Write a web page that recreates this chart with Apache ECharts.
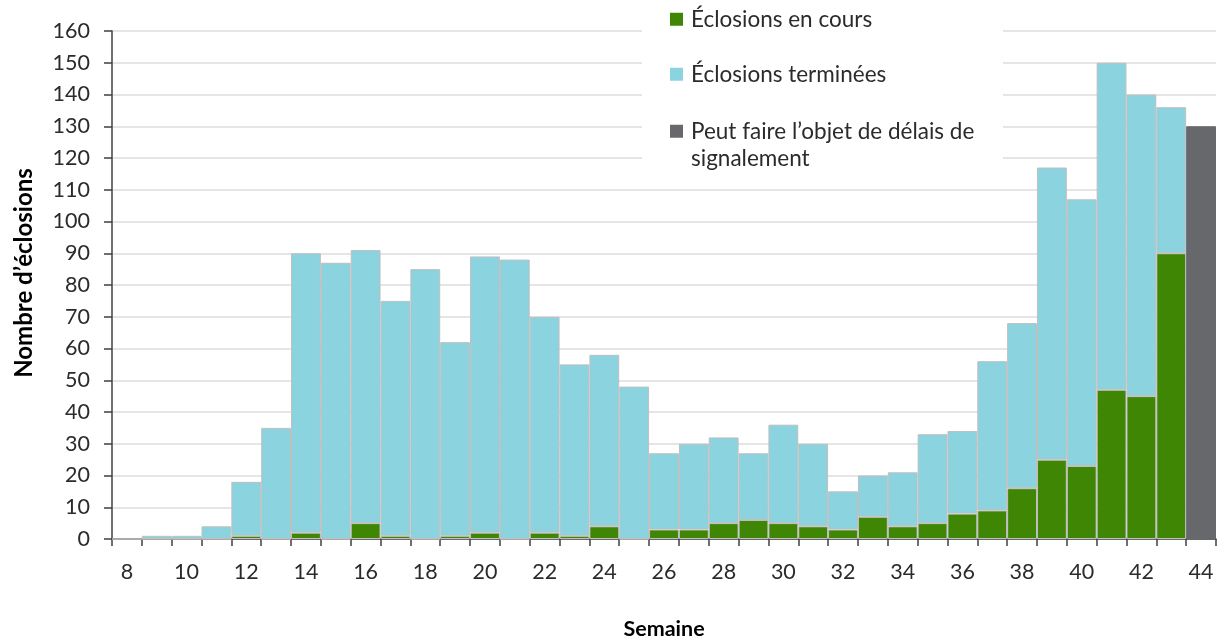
<!DOCTYPE html>
<html>
<head>
<meta charset="utf-8">
<script src="https://cdn.jsdelivr.net/npm/echarts@6/dist/echarts.min.js"></script>
<style>
  html, body { margin: 0; padding: 0; background: #fff; }
  #chart { width: 1219px; height: 643px; }
</style>
</head>
<body>
<div id="chart"></div>
<script>
// Weeks (categories)
const weeks = [8,9,10,11,12,13,14,15,16,17,18,19,20,21,22,23,24,25,26,27,28,29,30,31,32,33,34,35,36,37,38,39,40,41,42,43,44];
// Éclosions en cours (green, bottom of stack)
const enCours = [0,0,0,0,1,0,2,0,5,1,0,1,2,0,2,1,4,0,3,3,5,6,5,4,3,7,4,5,8,9,16,25,23,47,45,90,'-'];
// Éclosions terminées (light blue, stacked on top)
const terminees = ['-',1,1,4,17,35,88,87,86,74,85,61,87,88,68,54,54,48,24,27,27,21,31,26,12,13,17,28,26,47,52,92,84,103,95,46,'-'];
// Peut faire l'objet de délais de signalement (grey)
const delais = ['-','-','-','-','-','-','-','-','-','-','-','-','-','-','-','-','-','-','-','-','-','-','-','-','-','-','-','-','-','-','-','-','-','-','-','-',130];
const yTicks = { min: 0, max: 160, interval: 10 };

const nameGreen = 'Éclosions en cours';
const nameBlue = 'Éclosions terminées';
const nameGrey = 'Peut faire l’objet de délais de signalement';

const FONT = 'Lato, "Open Sans", sans-serif';
const txt = '#2b2b2b';
const border = { borderColor: '#bfbfbf', borderWidth: 1 };

const chart = echarts.init(document.getElementById('chart'), null, { renderer: 'canvas' });

function legendCfg(name, top) {
  return {
    data: [name],
    left: 670,
    top: top,
    padding: 0,
    orient: 'vertical',
    itemWidth: 13,
    itemHeight: 13,
    itemGap: 0,
    icon: 'rect',
    selectedMode: false,
    itemStyle: { borderWidth: 0 },
    formatter: function (n) {
      // blank first line so that the first text line sits level with the marker
      return n === nameGrey ? '\u00a0\nPeut faire l’objet de délais de\nsignalement' : n;
    },
    textStyle: { fontFamily: FONT, fontSize: 22.5, color: txt, lineHeight: 27.5, padding: [0, 0, 0, 3] }
  };
}

chart.setOption({
  animation: false,
  backgroundColor: '#ffffff',
  textStyle: { fontFamily: FONT },
  grid: { left: 112, right: 3, top: 31, bottom: 104, containLabel: false, outerBoundsMode: 'none' },
  graphic: [{
    type: 'rect', z: 1,
    shape: { x: 642, y: 0, width: 361, height: 175 },
    style: { fill: '#ffffff' }
  }],
  legend: [
    legendCfg(nameGreen, 5.5),
    legendCfg(nameBlue, 60.5),
    legendCfg(nameGrey, 90)
  ],
  xAxis: {
    type: 'category',
    data: weeks,
    boundaryGap: true,
    name: 'Semaine',
    nameLocation: 'middle',
    nameGap: 79,
    nameTextStyle: { fontFamily: FONT, fontSize: 21.5, fontWeight: 'bold', color: '#000' },
    axisLine: { show: true, lineStyle: { color: '#404040', width: 1.5 } },
    axisTick: { show: true, interval: 0, length: 7, inside: false, lineStyle: { color: '#404040', width: 1.5 } },
    axisLabel: { interval: 1, margin: 22, fontFamily: FONT, fontSize: 21.5, color: txt },
    splitLine: { show: false }
  },
  yAxis: {
    type: 'value',
    min: yTicks.min, max: yTicks.max, interval: yTicks.interval,
    name: 'Nombre d’éclosions',
    nameLocation: 'middle',
    nameGap: 76,
    nameTextStyle: { fontFamily: FONT, fontSize: 24, fontWeight: 'bold', color: '#000', padding: [0, 0, 0, 24] },
    axisLine: { show: true, lineStyle: { color: '#404040', width: 1.5 } },
    axisTick: { show: true, length: 8, inside: false, lineStyle: { color: '#404040', width: 1.5 } },
    axisLabel: { margin: 22, fontFamily: FONT, fontSize: 21.5, color: txt },
    splitLine: { show: true, lineStyle: { color: '#dddddd', width: 1.5 } }
  },
  series: [
    { name: nameGreen, type: 'bar', stack: 'total', data: enCours, barCategoryGap: 0, barGap: '0%',
      itemStyle: Object.assign({ color: '#3f8604' }, border) },
    { name: nameBlue, type: 'bar', stack: 'total', data: terminees, barCategoryGap: 0,
      itemStyle: Object.assign({ color: '#8bd3df' }, border) },
    { name: nameGrey, type: 'bar', stack: 'total', data: delais, barCategoryGap: 0,
      itemStyle: { color: '#67686c', borderColor: '#67686c', borderWidth: 1 } }
  ]
});
</script>
</body>
</html>
